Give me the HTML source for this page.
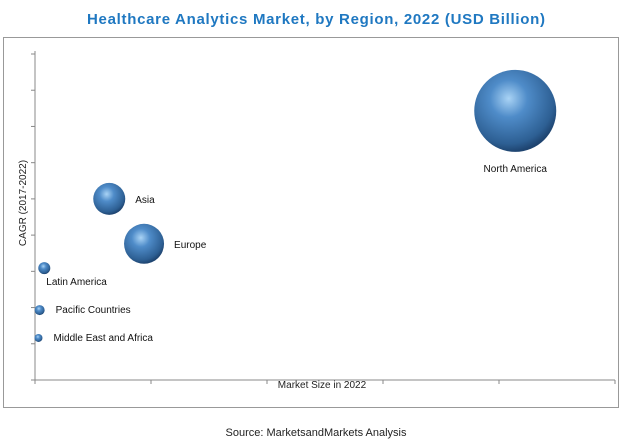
<!DOCTYPE html>
<html><head><meta charset="utf-8"><style>
body{margin:0;background:#fff;}
svg{display:block;font-family:"Liberation Sans",Arial,sans-serif;}
</style></head><body>
<svg width="630" height="445" viewBox="0 0 630 445">
<defs>
<radialGradient id="g" cx="0.42" cy="0.35" r="0.65">
<stop offset="0" stop-color="#a9d3f5"/>
<stop offset="0.35" stop-color="#4f8cc9"/>
<stop offset="0.85" stop-color="#2d5f93"/>
<stop offset="1" stop-color="#1e4470"/>
</radialGradient>
</defs>
<text x="316" y="24" text-anchor="middle" font-size="15" font-weight="bold" fill="#1f78c1" textLength="458">Healthcare Analytics Market, by Region, 2022 (USD Billion)</text>
<rect x="3.5" y="37.5" width="615" height="370" fill="none" stroke="#999"/>
<g id="axes"></g>
<g id="bubbles"></g>
<text x="322" y="388" text-anchor="middle" font-size="10" fill="#222">Market Size in 2022</text>
<text transform="translate(26,203) rotate(-90)" text-anchor="middle" font-size="10" fill="#222">CAGR (2017-2022)</text>
<text x="316" y="436" text-anchor="middle" font-size="11" fill="#222">Source: MarketsandMarkets Analysis</text>
</svg>
<script>
const regions=["North America","Asia","Europe","Latin America","Pacific Countries","Middle East and Africa"];
const marketSize=[4.14,0.64,0.94,0.08,0.04,0.03];
const cagr=[7.43,5.0,3.76,3.09,1.93,1.16];
const bubbleSize=[41,16,20,6,5,4];
const xTicks=[0,1,2,3,4,5];
const yTicks=[0,1,2,3,4,5,6,7,8,9];
const NS="http://www.w3.org/2000/svg";
const X0=35,X1=615,Y0=380,Y1=54;
function xs(v){return X0+(v/5)*(X1-X0);}
function ys(v){return Y0-(v/9)*(Y0-Y1);}
function mk(t,a,p){const e=document.createElementNS(NS,t);for(const k in a)e.setAttribute(k,a[k]);p.appendChild(e);return e;}
const ax=document.getElementById('axes');
let l=mk('line',{x1:X0,y1:Y1-3,x2:X0,y2:Y0,stroke:'#888'},ax);


l=mk('line',{x1:X0,y1:Y0,x2:X1,y2:Y0,stroke:'#888'},ax);


yTicks.forEach(v=>{const t=mk('line',{x1:X0-4,y1:ys(v),x2:X0,y2:ys(v),stroke:'#888'},ax);

});
xTicks.forEach(v=>{const t=mk('line',{x1:xs(v),y1:Y0,x2:xs(v),y2:Y0+4,stroke:'#888'},ax);

});
const lab=[[0,0,58,'middle'],[1,26,1,'start'],[2,30,1,'start'],[3,2,14,'start'],[4,16,0,'start'],[5,15,0,'start']];
const bg=document.getElementById('bubbles');
regions.forEach((r,i)=>{
 const cx=xs(marketSize[i]),cy=ys(cagr[i]);
 const c=mk('ellipse',{cx:cx,cy:cy,rx:bubbleSize[i],ry:bubbleSize[i],fill:'url(#g)'},bg);
 
 
 const L=lab[i];
 const t=mk('text',{x:cx+L[1],y:cy+L[2]+3,'text-anchor':L[3],'font-size':10,fill:'#111'},bg);
 t.textContent=r;
 
 
});
</script>
</body></html>
